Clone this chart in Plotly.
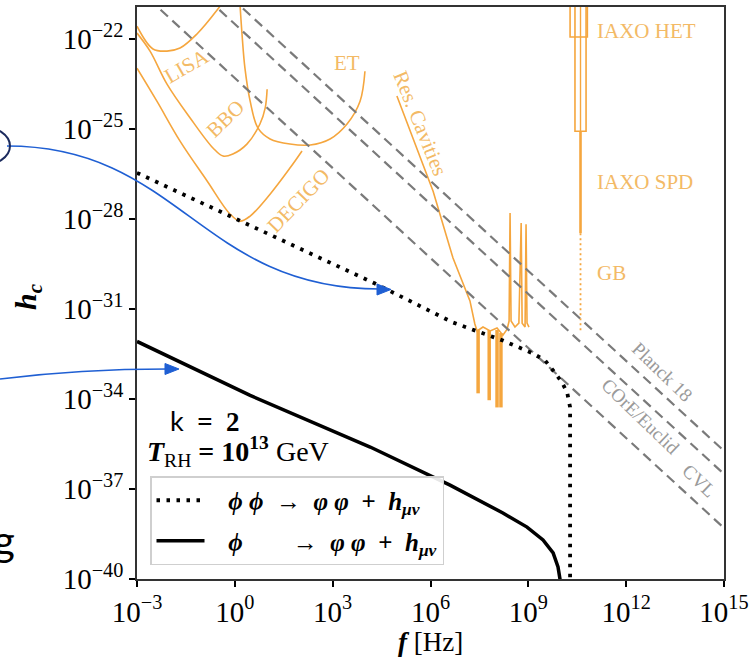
import plotly.graph_objects as go

# ---------------- data (log10 values) ----------------
lisa_lf = [-3.0, -2.51, -2.08, -1.68, -1.16, -0.52, -0.39]
lisa_lh = [-21.57, -22.33, -22.4, -22.3, -21.83, -21.0, -20.8]

bbo_lf = [-3.0, -2.6, -2.08, -1.37, -0.67, -0.36, -0.06, 0.37, 0.77, 0.93, 0.99]
bbo_lh = [-21.8, -22.4, -23.5, -24.63, -25.63, -25.9, -25.83, -25.5, -24.83, -24.3, -23.67]

decigo_lf = [-3.0, -2.39, -1.68, -0.85, -0.15, 0.16, 0.47, 1.08, 1.69, 2.06]
decigo_lh = [-22.97, -24.07, -25.4, -26.73, -27.83, -28.07, -27.9, -27.17, -26.3, -25.73]

et_lf = [0.15, 0.22, 0.31, 0.47, 0.71, 1.08, 1.69, 2.31, 2.92, 3.44, 3.84, 3.99]
et_lh = [-20.7, -21.83, -22.97, -24.07, -24.97, -25.33, -25.5, -25.53, -25.33, -24.83, -24.07, -23.07]

res_lf = [4.97, 6.08, 6.69, 7.21, 7.36, 7.43, 7.61, 7.83, 8.04, 8.22, 8.35, 8.41, 8.44,
          8.47, 8.59, 8.71, 8.78, 8.81, 8.9, 8.93, 8.96, 9.02]
res_lh = [-23.9, -27.07, -29.3, -30.73, -31.5, -31.73, -31.6, -31.73, -31.63, -31.87, -31.67,
          -31.4, -27.8, -31.4, -31.6, -31.47, -28.13, -31.47, -31.6, -28.17, -31.47, -31.6]
res_bar_lf = [7.46, 7.46, None, 7.80, 7.80, None, 8.04, 8.04, None, 8.16, 8.16]
res_bar_lh = [-31.7, -33.81, None, -31.7, -34.04, None, -31.7, -34.28, None, -31.8, -34.28]

iaxo_het_lf = [10.28, 10.28, 10.81, 10.81]
iaxo_het_lh = [-20.5, -21.93, -21.93, -20.5]
iaxo_narrow_lf = [10.43, 10.43, 10.77, 10.77]
iaxo_narrow_lh = [-20.5, -25.07, -25.07, -20.5]
iaxo_mid_lf = [10.6, 10.6]
iaxo_mid_lh = [-20.5, -25.07]
iaxo_spd_lf = [10.6, 10.6]
iaxo_spd_lh = [-25.07, -28.47]
gb_lf = [10.6, 10.6]
gb_lh = [-28.47, -31.73]

cmb_lf = [-3.0, 15.0]
planck_lh = [-17.73, -35.73]
core_lh = [-18.5, -36.5]
cvl_lh = [-20.3, -38.3]

dot_lf = [-3.0, 0.16, 4.3, 6.69, 8.22, 9.14, 9.51, 9.76, 10.03, 10.19, 10.28, 10.28]
dot_lh = [-26.46, -28.05, -30.15, -31.45, -32.05, -32.48, -32.71, -33.05, -33.44, -33.78, -34.27, -40.5]

sol_lf = [-3.0, 0.47, 4.15, 6.6, 8.22, 8.96, 9.45, 9.76, 9.91, 9.97, 9.98]
sol_lh = [-32.08, -33.88, -35.6, -36.87, -37.8, -38.27, -38.7, -39.13, -39.6, -40.0, -40.5]

x_ticks = [-3, 0, 3, 6, 9, 12, 15]
y_ticks = [-22, -25, -28, -31, -34, -37, -40]


def P(v):
    return [None if a is None else 10.0 ** a for a in v]


ORANGE = "#F5A63E"
ORANGE_TXT = "#F3BA66"
GRAY = "#7a7a7a"
SERIF = "Liberation Serif"
NB = "\u00a0"

fig = go.Figure()


def line(lf, lh, color, width, dash="solid", shape="linear", name=None, legend=False, group=None):
    fig.add_trace(go.Scatter(
        x=P(lf), y=P(lh), mode="lines", name=name, showlegend=legend, legendgroup=group,
        line=dict(color=color, width=width, dash=dash, shape=shape),
        hoverinfo="skip", connectgaps=False))


line(lisa_lf, lisa_lh, ORANGE, 1.6, shape="spline")
line(bbo_lf, bbo_lh, ORANGE, 1.6, shape="spline")
line(decigo_lf, decigo_lh, ORANGE, 1.6, shape="spline")
line(et_lf, et_lh, ORANGE, 1.6, shape="spline")
line(res_lf, res_lh, ORANGE, 1.6)
line(res_bar_lf, res_bar_lh, ORANGE, 3.5)
line(iaxo_het_lf, iaxo_het_lh, ORANGE, 1.6)
line(iaxo_narrow_lf, iaxo_narrow_lh, ORANGE, 1.6)
line(iaxo_mid_lf, iaxo_mid_lh, ORANGE, 1.4)
line(iaxo_spd_lf, iaxo_spd_lh, ORANGE, 2.6)
line(gb_lf, gb_lh, ORANGE, 1.8, dash="2px,3px")

for lh in (planck_lh, core_lh, cvl_lh):
    line(cmb_lf, lh, GRAY, 2.2, dash="10px,6px")

line(dot_lf, dot_lh, "black", 3.8, dash="3.5px,6.5px",
     name=NB * 3 + "<b><i>ϕ ϕ</i>  →  <i>φ φ</i>  +  <i>h</i><sub><i>μν</i></sub></b>",
     legend=True, group="a")
line(sol_lf, sol_lh, "black", 3.5,
     name=NB * 3 + "<b><i>ϕ</i>        →  <i>φ φ</i>  +  <i>h</i><sub><i>μν</i></sub></b>",
     legend=True, group="b")

# ---------------- labels in data coordinates ----------------
def label(lf, lh, text, color, size, angle=0, xanchor="center"):
    fig.add_annotation(x=lf, y=lh, xref="x", yref="y", text=text, showarrow=False,
                       textangle=angle, xanchor=xanchor, yanchor="middle",
                       font=dict(family=SERIF, size=size, color=color))


label(-1.47, -22.9, "LISA", ORANGE_TXT, 21, -30)
label(-0.3, -24.67, "BBO", ORANGE_TXT, 21, -44)
label(1.94, -27.4, "DECIGO", ORANGE_TXT, 21, -46)
label(3.44, -22.8, "ET", ORANGE_TXT, 21)
label(5.68, -24.8, "Res. Cavities", ORANGE_TXT, 21, 68)
label(11.05, -21.73, "IAXO HET", ORANGE_TXT, 21, xanchor="left")
label(11.05, -26.77, "IAXO SPD", ORANGE_TXT, 21, xanchor="left")
label(11.05, -29.8, "GB", ORANGE_TXT, 21, xanchor="left")
label(13.1, -33.07, "Planck 18", "#9a9a9a", 19, 44)
label(12.45, -34.57, "COrE/Euclid", "#9a9a9a", 19, 44)
label(14.23, -36.73, "CVL", "#9a9a9a", 19, 44)

# ---------------- decorations in pixel -> paper coords ----------------
L, R, T, B = 137, 724, 7, 579


def px(x, y):
    return (x - L) / (R - L), (B - y) / (B - T)


def ptxt(x, y):
    a, b = px(x, y)
    return f"{a:.5f},{b:.5f}"


def note(x, y, text, size, family=SERIF, xanchor="center", angle=0):
    a, b = px(x, y)
    fig.add_annotation(x=a, y=b, xref="paper", yref="paper", showarrow=False,
                       xanchor=xanchor, yanchor="middle", textangle=angle, text=text,
                       font=dict(family=family, size=size, color="black"))


# axis titles
note(430, 642, "<b><i>f</i></b> [Hz]", 27)
note(28, 297, "<b><i>h</i><sub><i>c</i></sub></b>", 30, angle=-90)

# k, T_RH text
note(168, 420, '<span style="font-family:Lato">k</span>  <b>=  2</b>', 27, xanchor="left")
note(145, 452, "<b><i>T</i></b><sub>RH</sub> <b>= 10<sup>13</sup></b> GeV", 28, xanchor="left")

# "g" fragment
note(17, 540, "g", 42, family="Lato", xanchor="right")

BLUE = "#1f5fd3"
fig.add_shape(type="path", xref="paper", yref="paper",
              path=f"M {ptxt(7,146)} C {ptxt(180,146)} {ptxt(200,289)} {ptxt(380,289)}",
              line=dict(color=BLUE, width=1.6))
fig.add_shape(type="path", xref="paper", yref="paper",
              path=f"M {ptxt(391,289.5)} L {ptxt(377,284)} L {ptxt(377,295)} Z",
              line=dict(color=BLUE, width=1), fillcolor=BLUE)
fig.add_shape(type="path", xref="paper", yref="paper",
              path=f"M {ptxt(0,379)} Q {ptxt(80,369)} {ptxt(168,369)}",
              line=dict(color=BLUE, width=1.6))
fig.add_shape(type="path", xref="paper", yref="paper",
              path=f"M {ptxt(179,369)} L {ptxt(165,363.5)} L {ptxt(165,374.5)} Z",
              line=dict(color=BLUE, width=1), fillcolor=BLUE)
x0, y0 = px(-50, 126)
x1, y1 = px(10, 166)
fig.add_shape(type="circle", xref="paper", yref="paper", x0=x0, x1=x1, y0=y1, y1=y0,
              line=dict(color="#1c2b5e", width=2))

lx, ly = px(150, 565)

fig.update_layout(
    width=751, height=665,
    margin=dict(l=L, r=751 - R, t=T, b=665 - B, autoexpand=False),
    paper_bgcolor="white", plot_bgcolor="white",
    showlegend=True,
    legend=dict(x=lx, y=ly, xanchor="left", yanchor="bottom", tracegroupgap=5,
                bgcolor="rgba(255,255,255,0.9)", bordercolor="#cfcfcf", borderwidth=1.5,
                font=dict(family=SERIF, size=25, color="black"), itemwidth=48),
    xaxis=dict(type="log", range=[-3, 15], tickmode="array",
               tickvals=[10.0 ** v for v in x_ticks],
               ticktext=[f"10<sup>{'−' if v < 0 else ''}{abs(v)}</sup>" for v in x_ticks],
               ticks="outside", ticklen=6, tickwidth=1.5, tickcolor="black",
               showline=True, linecolor="#333333", linewidth=1.6, mirror=True,
               showgrid=False, zeroline=False, automargin=False,
               tickfont=dict(family=SERIF, size=29, color="black")),
    yaxis=dict(type="log", range=[-40, -20.93], tickmode="array",
               tickvals=[10.0 ** v for v in y_ticks],
               ticktext=[f"10<sup>{'−' if v < 0 else ''}{abs(v)}</sup>" for v in y_ticks],
               ticks="outside", ticklen=6, tickwidth=1.5, tickcolor="black",
               showline=True, linecolor="#333333", linewidth=1.6, mirror=True,
               showgrid=False, zeroline=False, automargin=False,
               tickfont=dict(family=SERIF, size=29, color="black")),
)

fig.write_html("out.html")
